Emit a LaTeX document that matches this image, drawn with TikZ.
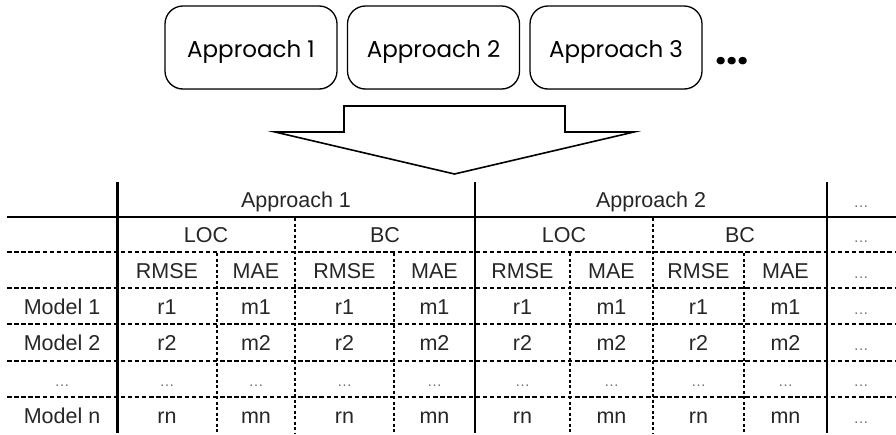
\documentclass[tikz,border=0pt]{standalone}
\usepackage{fontspec}
\setmainfont{Liberation Sans}
\newfontfamily\gothic{Poppins}
\usetikzlibrary{shadows}
\definecolor{txt}{HTML}{262626}
\definecolor{dotc}{HTML}{707070}
\begin{document}
\begin{tikzpicture}[x=1pt,y=-1pt,
  apbox/.style={draw, line width=1.3pt, rounded corners=18pt, fill=white,
    minimum width=172pt, minimum height=83pt, inner sep=0pt,
    text height=19pt, text depth=0pt,
    font=\gothic\fontsize{23}{26}\selectfont,
    drop shadow={opacity=0.25, shadow xshift=0pt, shadow yshift=-1.2pt}},
  bigarrow/.style={draw, line width=1.6pt, line join=miter, fill=white},
  solidrule/.style={line width=2pt},
  thickrule/.style={line width=3pt},
  hdash/.style={line width=1.5pt, dash pattern=on 4.5pt off 2.6pt},
  vdash/.style={line width=1.5pt, dash pattern=on 3pt off 2.5pt},
  cell/.style={anchor=base, text=txt, inner sep=0pt, font=\fontsize{21.5}{24}\selectfont},
  ell/.style={anchor=base, text=dotc, inner sep=0pt, font=\fontsize{15}{17}\selectfont}
]
\useasboundingbox (0,0) rectangle (896,434);

% top approach boxes
\node[apbox] (a1) at (251,47.5) {Approach 1};
\node[apbox] (a2) at (433.5,47.5) {Approach 2};
\node[apbox] (a3) at (616,47.5) {Approach 3};
\node[anchor=base, inner sep=0pt, font=\gothic\bfseries\fontsize{40}{42}\selectfont] (adots) at (732,64) {...};

% big arrow
\draw[bigarrow] (344,132) -- (344,106) -- (565,106) -- (565,132) -- (634,132)
  -- (454.5,174) -- (275,132) -- cycle;

% table rules
\draw[solidrule] (7,217) -- (896,217);
\foreach \yy in {252,288,324,361,397} \draw[hdash] (7,\yy) -- (896,\yy);
\draw[thickrule] (117,182) -- (117,433);
\draw[solidrule] (475,182) -- (475,433);
\draw[solidrule] (827,182) -- (827,433);
\foreach \xx in {295,653} \draw[vdash] (\xx,218) -- (\xx,433);
\foreach \xx in {217,394,570,744} \draw[vdash] (\xx,253) -- (\xx,433);

% header rows
\node[cell] (th1) at (296,207.5) {Approach 1};
\node[cell] (th2) at (651,207.5) {Approach 2};
\node[ell] (th3) at (861,207.5) {…};
\node[cell] (loc1) at (206,242.5) {LOC};
\node[cell] (bc1) at (385,242.5) {BC};
\node[cell] (loc2) at (564,242.5) {LOC};
\node[cell] (bc2) at (740,242.5) {BC};
\node[ell] (ld) at (861,242.5) {…};
\foreach \cx/\nm [count=\i] in {167/RMSE,256/MAE,344.5/RMSE,434.5/MAE,522.5/RMSE,611.5/MAE,698.5/RMSE,785.5/MAE}
  \node[cell] (met\i) at (\cx,278) {\nm};
\node[ell] (md) at (861,278) {…};

% body rows
\foreach \ry/\lab/\r/\m [count=\j] in {314/Model 1/r1/m1, 350.5/Model 2/r2/m2, 423/Model n/rn/mn} {
  \node[cell] (lab\j) at (62,\ry) {\lab};
  \foreach \cx/\v [count=\i] in {167/\r,256/\m,344.5/\r,434.5/\m,522.5/\r,611.5/\m,698.5/\r,785.5/\m}
    \node[cell] (c\j-\i) at (\cx,\ry) {\v};
  \node[ell] (e\j) at (861,\ry) {…};
}
\node[ell] (labd) at (62,386) {…};
\foreach \cx [count=\i] in {167,256,344.5,434.5,522.5,611.5,698.5,785.5}
  \node[ell] (d\i) at (\cx,386) {…};
\node[ell] (dd) at (861,386) {…};
\end{tikzpicture}
\end{document}
